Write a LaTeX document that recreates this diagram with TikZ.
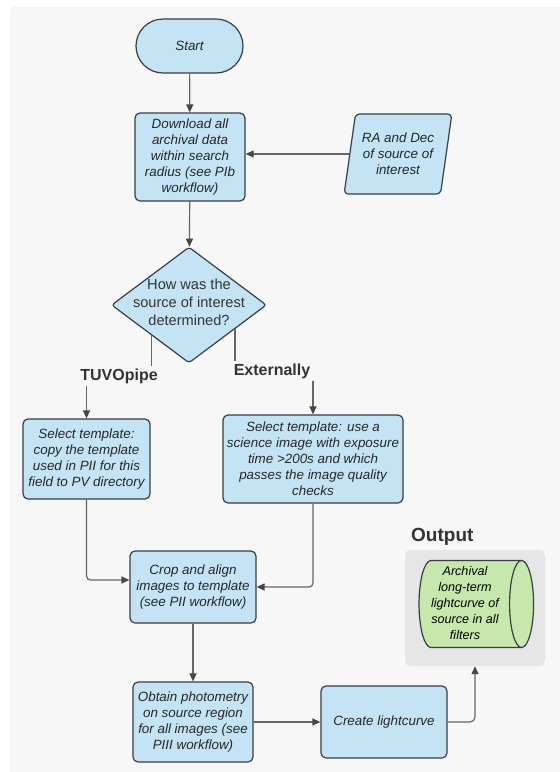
\documentclass[tikz,border=0pt]{standalone}
\usepackage{fontspec}
\setmainfont{Liberation Sans}
\usetikzlibrary{shapes.geometric,arrows.meta,calc}
\definecolor{panelgray}{RGB}{247,247,247}
\definecolor{outgray}{RGB}{230,230,230}
\definecolor{boxblue}{RGB}{196,228,246}
\definecolor{cylgreen}{RGB}{199,232,172}
\definecolor{edgegray}{RGB}{58,62,68}
\definecolor{linegray}{RGB}{102,102,102}
\definecolor{tipgray}{RGB}{70,70,70}
\definecolor{textgray}{RGB}{51,51,51}

\begin{document}
\begin{tikzpicture}[x=1pt, y=-1pt, every node/.style={inner sep=0pt},
  stepbox/.style={draw=edgegray, line width=1.2pt, fill=boxblue, rounded corners=5pt, align=center, text=black!85, font=\fontsize{13.4}{16}\selectfont\itshape},
  flow/.style={draw=linegray, line width=1.2pt, -{Triangle[length=8pt, width=7pt, color=tipgray]}},
  plain/.style={draw=linegray, line width=1.2pt},
  branch/.style={inner sep=2pt, text=textgray, font=\fontsize{16}{18}\selectfont\bfseries}]
  % Canvas (pixel coordinates, y downwards)
  \clip (0,0) rectangle (560,772);
  \fill[white] (0,0) rectangle (560,772);
  \fill[panelgray, rounded corners=6pt] (10,6) rectangle (580,790);

  % Start and input
  \node[stepbox, rounded corners=27pt, minimum width=107, minimum height=54] (start) at (189.5,46) {Start};
  \node[stepbox, minimum width=110, minimum height=88] (dl) at (190,157) {Download all\\archival data\\within search\\radius (see PIb\\workflow)};
  \node[stepbox, trapezium, trapezium left angle=77, trapezium right angle=103, trapezium stretches=true, rounded corners=4pt, minimum width=108, minimum height=80] (ra) at (398,154) {RA and Dec\\of source of\\interest};

  % Decision: diamond drawn empty, text set over it
  \node[draw=edgegray, line width=1.2pt, fill=boxblue, diamond, rounded corners=3pt, minimum width=155, minimum height=116] (dec) at (189,305) {};
  \node[align=center, text=textgray, font=\fontsize{14.6}{18}\selectfont] (dectext) at (189,302) {How was the\\source of interest\\determined?};

  % Branch labels
  \node[branch] (tuvo) at (119,376) {TUVOpipe};
  \node[branch] (ext) at (272,371) {Externally};

  % Template selection
  \node[stepbox, minimum width=127, minimum height=80] (tplA) at (86.5,459) {Select template:\\copy the template\\used in PII for this\\field to PV directory};
  \node[stepbox, minimum width=180, minimum height=88] (tplB) at (313,459) {Select template: use a\\science image with exposure\\time >200s and which\\passes the image quality\\checks};

  % Processing
  \node[stepbox, minimum width=126, minimum height=72] (crop) at (193,587) {Crop and align\\images to template\\(see PII workflow)};
  \node[stepbox, minimum width=120, minimum height=80] (obtain) at (193,722) {Obtain photometry\\on source region\\for all images (see\\PIII workflow)};
  \node[stepbox, minimum width=126, minimum height=72] (create) at (384,722) {Create lightcurve};

  % Output panel
  \node[fill=outgray, rounded corners=5pt, minimum width=140, minimum height=116] (outp) at (475,608) {};
  \node[anchor=west, text=textgray, font=\fontsize{19}{21}\selectfont\bfseries] (outtitle) at (411,537) {Output};
  \node[draw=edgegray, line width=1.2pt, fill=cylgreen, cylinder, shape aspect=0.3, minimum width=87, minimum height=105, font=\fontsize{12.6}{16}\selectfont\itshape] (cyl) at (470,604) {\begin{tabular}{@{}c@{}}Archival\\long-term\\lightcurve of\\source in all\\filters\end{tabular}\hspace*{10pt}};

  % Connectors
  \coordinate (decL) at ($(dec.west)!0.52!(dec.south)$);
  \coordinate (decR) at ($(dec.east)!0.41!(dec.south)$);
  \draw[flow] (start) -- (dl);
  \draw[flow] (ra.west) -- (ra.west -| dl.east);
  \draw[flow] (dl) -- (dec);
  \draw[plain] (decL) -- (decL |- tuvo.north);
  \draw[plain] (decR) -- (decR |- ext.north);
  \draw[flow] (tuvo.south -| tplA.north) -- (tplA.north);
  \draw[flow] (ext.south -| tplB.north) -- (tplB.north);
  \draw[flow, rounded corners=4pt] (tplA.south) |- ($(crop.west)+(0,-7)$);
  \draw[flow, rounded corners=4pt] (tplB.south) |- (crop.east);
  \draw[flow] (crop) -- (obtain);
  \draw[flow] (obtain) -- (create);
  \draw[flow, rounded corners=5pt] (create.east) -| (outp.south);
\end{tikzpicture}
\end{document}
